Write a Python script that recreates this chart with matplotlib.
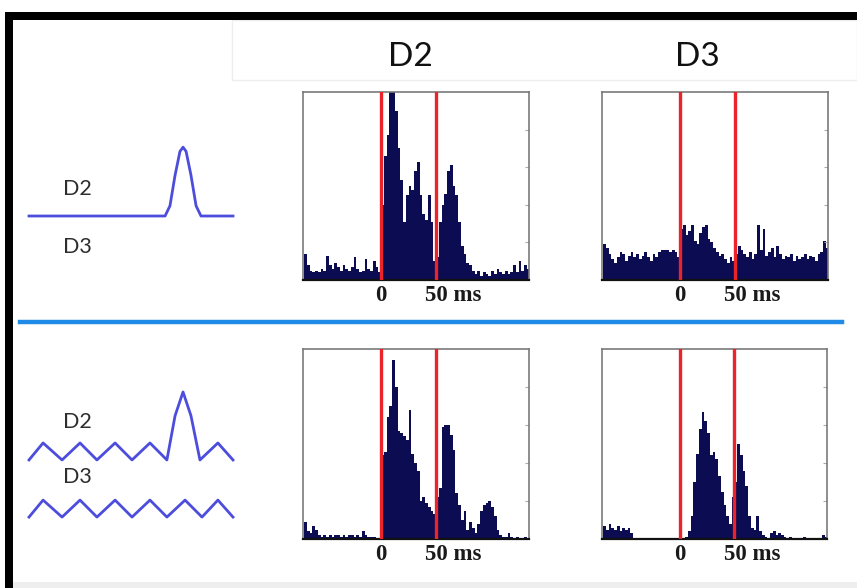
import matplotlib
matplotlib.use("Agg")
import matplotlib.pyplot as plt
import numpy as np
from matplotlib.patches import Rectangle
from matplotlib.lines import Line2D
from matplotlib.transforms import blended_transform_factory

W, H = 857, 588

# histogram bins (ms): 2.5 ms bins from -70 ms
bin_start = -70
bin_width = 2.5

# spike counts per bin (0..100 = panel height)
top_d2 = [14, 8, 5, 4, 5, 4, 6, 5, 13, 8, 6, 9, 7, 5, 8, 6, 5, 7, 12, 6, 4, 5, 11, 6, 5, 10, 7, 4,
          40, 66, 77, 105, 105, 90, 70, 53, 31, 45, 50, 48, 58, 63, 45, 35, 32, 45, 31, 10,
          12, 31, 40, 46, 58, 61, 50, 45, 31, 18, 14, 9, 8, 5, 3, 5, 2, 4, 3, 2,
          5, 3, 6, 4, 3, 5, 3, 4, 8, 4, 10, 5, 8, 6]
top_d3 = [19, 17, 14, 11, 9, 12, 15, 14, 10, 13, 15, 12, 14, 11, 13, 15, 12, 10, 14, 12, 15, 16, 16, 16, 15, 16, 15, 12,
          27, 29, 24, 26, 29, 21, 19, 25, 28, 29, 22, 20, 17, 15, 13, 14, 11, 9, 12, 10,
          14, 18, 16, 14, 12, 15, 11, 14, 29, 16, 27, 13, 15, 17, 12, 18, 14, 11,
          13, 12, 14, 10, 13, 11, 12, 14, 11, 13, 12, 10, 14, 15, 21, 17]
bot_d2 = [9, 4, 3, 7, 5, 2, 1, 2, 1, 2, 1, 2, 2, 1, 2, 1, 2, 2, 1, 2, 1, 4, 2, 1, 1, 1, 0, 0,
          44, 46, 64, 70, 94, 80, 57, 56, 54, 52, 68, 45, 40, 36, 20, 22, 19, 17, 15, 13,
          22, 27, 59, 60, 60, 55, 47, 24, 18, 10, 15, 5, 9, 6, 3, 8, 15, 18,
          19, 20, 17, 12, 5, 2, 1, 1, 3, 1, 0, 1, 0, 0, 1, 0]
bot_d3 = [7, 5, 8, 6, 5, 7, 4, 6, 5, 6, 3, 0, 0, 0, 0, 0, 0, 0, 0, 0, 0, 0, 0, 0, 0, 0, 0, 0,
          0, 0, 1, 4, 12, 30, 45, 58, 67, 62, 56, 44, 46, 42, 33, 25, 18, 12, 8, 22,
          30, 50, 44, 36, 28, 12, 6, 5, 12, 4, 2, 1, 0, 3, 4, 2, 3, 2,
          1, 0, 1, 0, 0, 0, 0, 1, 0, 0, 0, 0, 0, 0, 2, 1]

# stimulus waveforms (x: 0..100, y: amplitude units)
stim_top_x = [0, 66.7, 69.1, 71.6, 74.0, 75.5, 77.0, 79.4, 81.9, 84.3, 100]
stim_top_y = [0, 0, 0.6, 2.4, 3.8, 4.05, 3.8, 2.4, 0.6, 0, 0]
stim_d2_x = [0, 6.9, 16.2, 25, 33.3, 42.2, 50.5, 59.3, 67.6, 71.6, 75.5, 79.4, 83.8, 92.6, 100]
stim_d2_y = [0, 1, 0, 1, 0, 1, 0, 1, 0, 2.6, 4, 2.6, 0, 1, 0]
stim_d3_x = [0, 6.9, 16.2, 25, 33.3, 42.2, 50.5, 59.3, 67.6, 76.5, 84.8, 92.6, 100]
stim_d3_y = [0, 1, 0, 1, 0, 1, 0, 1, 0, 1, 0, 1, 0]


def box(l, t, r, b):
    return [l / W, 1 - b / H, (r - l) / W, (b - t) / H]


fig = plt.figure(figsize=(W / 100, H / 100), dpi=100)
fig.patch.set_facecolor('white')

# frame bits of the screenshot
fig.add_artist(Rectangle((232 / W, 1 - 80 / H), (W - 232) / W, 60 / H, transform=fig.transFigure,
                         facecolor='none', edgecolor='#eeeeee', lw=1))
fig.add_artist(Rectangle((13 / W, 0), 1, 6 / H, transform=fig.transFigure, facecolor='#eeeeee', lw=0))
fig.add_artist(Rectangle((5 / W, 0), 8 / W, 1 - 12 / H, transform=fig.transFigure, facecolor='black', lw=0))
fig.add_artist(Rectangle((5 / W, 1 - 20 / H), 1, 8 / H, transform=fig.transFigure, facecolor='black', lw=0))
fig.add_artist(Line2D([20 / W, 842 / W], [1 - 322 / H, 1 - 322 / H], transform=fig.transFigure,
                      color='#1f8be6', lw=3.2))

# column headers
fig.text(410 / W, 1 - 57 / H, 'D2', ha='center', va='center', fontsize=24, family='Lato', color='#111111')
fig.text(697 / W, 1 - 57 / H, 'D3', ha='center', va='center', fontsize=24, family='Lato', color='#111111')

# stimulus labels
for txt, y in [('D2', 189), ('D3', 247), ('D2', 422), ('D3', 477)]:
    fig.text(63 / W, 1 - y / H, txt, ha='left', va='center', fontsize=15.5, family='Lato', color='#2e2e2e')

# stimulus waveforms
sax = fig.add_axes(box(29, 130, 233, 530))
sax.set_xlim(0, 100)
sax.set_ylim(0, 400 / 17)
sax.axis('off')
wave_col = '#4d4ddd'
sax.plot(stim_top_x, np.array(stim_top_y) + 18.47, color=wave_col, lw=2.0, solid_joinstyle='round', clip_on=False)
sax.plot(stim_d2_x, np.array(stim_d2_y) + 4.12, color=wave_col, lw=2.0, solid_joinstyle='round', clip_on=False)
sax.plot(stim_d3_x, np.array(stim_d3_y) + 0.76, color=wave_col, lw=2.0, solid_joinstyle='round', clip_on=False)

panels = [
    (top_d2, box(303, 92, 529, 280), 188),
    (top_d3, box(602, 92, 828, 280), 188),
    (bot_d2, box(303, 349, 529, 539), 190),
    (bot_d3, box(602, 349, 827, 539), 190),
]

for counts, rect, hpx in panels:
    ax = fig.add_axes(rect)
    edges = bin_start + bin_width * np.arange(len(counts))
    ax.bar(edges, counts, width=bin_width, align='edge', color='#0c0c52', linewidth=0)
    ax.axvline(0, color='#ec2328', lw=2.4, zorder=3)
    ax.axvline(50, color='#ec2328', lw=2.4, zorder=3)
    ax.set_xlim(-71, 134.5)
    ax.set_ylim(0, 100)
    ax.set_xticks([])
    ax.set_yticks([20, 40, 60, 80])
    ax.tick_params(axis='y', left=False, right=True, direction='in', length=3,
                   color='#aaaaaa', labelleft=False)
    for s in ['left', 'top', 'right']:
        ax.spines[s].set_color('#7a7a7a')
        ax.spines[s].set_linewidth(1.2)
    ax.spines['bottom'].set_color('#111111')
    ax.spines['bottom'].set_linewidth(1.6)
    tr = blended_transform_factory(ax.transData, ax.transAxes)
    yy = -15.5 / hpx
    ax.text(0, yy, '0', transform=tr, ha='center', va='center', fontsize=16.5,
            family='Liberation Serif', fontweight='bold', color='#1a1a1a')
    ax.text(40, yy, '50 ms', transform=tr, ha='left', va='center', fontsize=16.5,
            family='Liberation Serif', fontweight='bold', color='#1a1a1a')

fig.savefig('out.png', dpi=100)
